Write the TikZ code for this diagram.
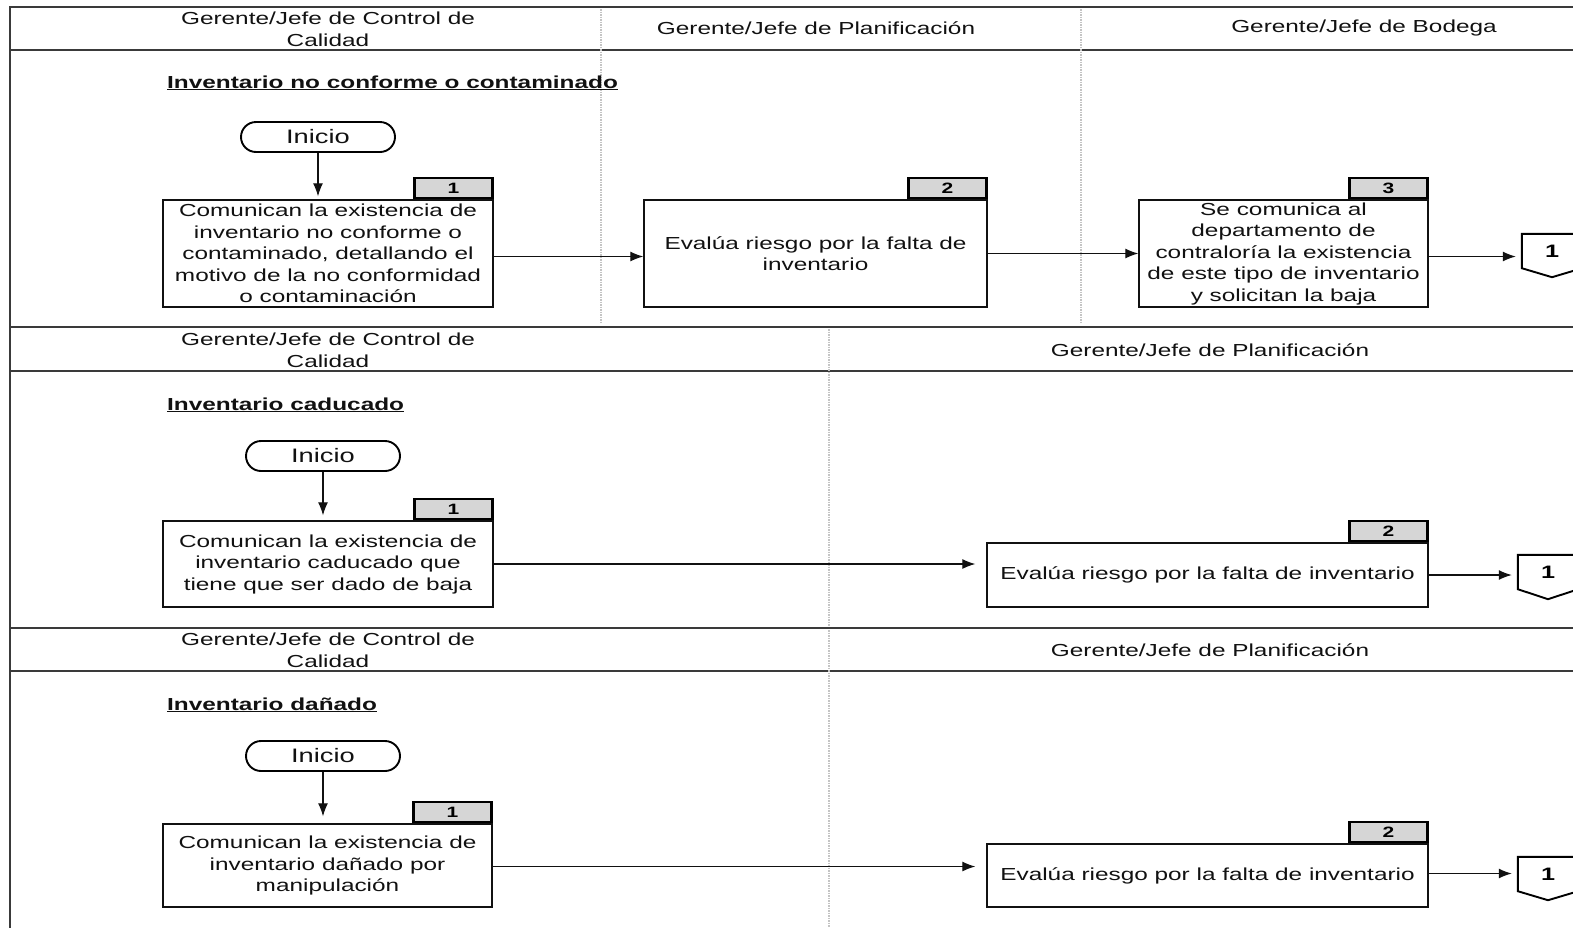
\documentclass[tikz,border=0pt]{standalone}
\usepackage{fontspec}
\setmainfont{Liberation Sans}[FakeStretch=1.4]
\usetikzlibrary{arrows.meta}

\definecolor{frameline}{HTML}{3A3A3A}
\definecolor{laneline}{HTML}{C4C4C4}
\definecolor{tagfill}{HTML}{D6D6D6}
\definecolor{ink}{HTML}{111111}

\tikzset{
  frame/.style={draw=frameline, line width=1.4pt},
  lanesep/.style={draw=laneline, line width=1.5pt, dash pattern=on 1.5pt off 1pt},
  hdr/.style={font=\fontsize{17.4}{22}\selectfont, align=center, text=ink, inner sep=0pt},
  ttl/.style={font=\fontsize{17.4}{22}\selectfont\bfseries, anchor=base west, inner sep=0pt, text=ink},
  start/.style={draw=black, line width=1.9pt, rounded corners=15pt, minimum width=154pt,
    minimum height=30pt, font=\fontsize{19.5}{22}\selectfont, inner sep=0pt, text=ink},
  task/.style={draw=ink, line width=1.3pt, fill=white, align=center,
    font=\fontsize{17.4}{21.5}\selectfont, inner sep=0pt, text=ink},
  tag/.style={draw=black, line width=2.4pt, fill=tagfill, minimum width=78pt, minimum height=20pt,
    inner sep=0pt, font=\fontsize{15}{15}\selectfont\bfseries, anchor=south east},
  offpage/.style={minimum width=60pt, minimum height=34pt, inner sep=0pt,
    font=\fontsize{18}{18}\selectfont\bfseries},
  pentagon/.style={draw=black, line width=1.9pt},
  flow/.style={draw=ink, line width=1.2pt, -{Latex[length=13pt,width=10pt]}},
}

\begin{document}
\begin{tikzpicture}[x=1pt,y=-1pt]
\useasboundingbox (0,0) rectangle (1573,927);
\clip (0,0) rectangle (1573,927);

% ---------- pool frame ----------
\draw[frame] (1580,7) -- (10,7) -- (10,940);
\foreach \yy in {50,327,371,628,671}
  \draw[frame] (10,\yy) -- (1580,\yy);

% lane separators
\draw[lanesep] (601,9) -- (601,323);
\draw[lanesep] (1081,9) -- (1081,323);
\draw[lanesep] (829,329) -- (829,626);
\draw[lanesep] (829,630) -- (829,927);

% ---------- lane headers ----------
\node[hdr] (h1a) at (328,29) {Gerente/Jefe de Control de\\Calidad};
\node[hdr] (h1b) at (816,28) {Gerente/Jefe de Planificación};
\node[hdr] (h1c) at (1364,28) {Gerente/Jefe de Bodega};
\node[hdr] (h2a) at (328,350) {Gerente/Jefe de Control de\\Calidad};
\node[hdr] (h2b) at (1210,350) {Gerente/Jefe de Planificación};
\node[hdr] (h3a) at (328,650) {Gerente/Jefe de Control de\\Calidad};
\node[hdr] (h3b) at (1210,650) {Gerente/Jefe de Planificación};

% ---------- section 1: inventario no conforme o contaminado ----------
\node[ttl] (t1) at (167,88) {\underline{Inventario no conforme o contaminado}};
\node[start] (s1) at (318,137) {Inicio};
\node[task, minimum width=330pt, minimum height=107pt] (a1) at (328,253.5)
  {Comunican la existencia de\\inventario no conforme o\\contaminado, detallando el\\motivo de la no conformidad\\o contaminación};
\node[tag] (a1n) at (a1.north east) {1};
\node[task, minimum width=343pt, minimum height=107pt] (a2) at (815.5,253.5)
  {Evalúa riesgo por la falta de\\inventario};
\node[tag] (a2n) at (a2.north east) {2};
\node[task, minimum width=289pt, minimum height=107pt] (a3) at (1283.5,253.5)
  {Se comunica al\\departamento de\\contraloría la existencia\\de este tipo de inventario\\y solicitan la baja};
\node[tag] (a3n) at (a3.north east) {3};
\node[offpage] (o1) at (1552,251) {1};
\draw[pentagon] (o1.north west) -- (o1.north east) -- (o1.south east)
  -- ([yshift=-9pt]o1.south) -- (o1.south west) -- cycle;

\draw[flow, shorten >=3pt] (s1.south) -- (s1.south |- a1.north);
\draw[flow] ([yshift=-3pt]a1.east) -- ([yshift=-3pt]a1.east -| a2.west);
\draw[flow] (a2.east) -- (a2.east -| a3.west);
\draw[flow, shorten >=6pt] ([yshift=-3pt]a3.east) -- ([yshift=-3pt]a3.east -| o1.west);

% ---------- section 2: inventario caducado ----------
\node[ttl] (t2) at (167,410) {\underline{Inventario caducado}};
\node[start] (s2) at (323,456) {Inicio};
\node[task, minimum width=330pt, minimum height=86pt] (b1) at (328,564)
  {Comunican la existencia de\\inventario caducado que\\tiene que ser dado de baja};
\node[tag] (b1n) at (b1.north east) {1};
\node[task, minimum width=441pt, minimum height=64pt] (b2) at (1207.5,575)
  {Evalúa riesgo por la falta de inventario};
\node[tag] (b2n) at (b2.north east) {2};
\node[offpage] (o2) at (1548,572) {1};
\draw[pentagon] (o2.north west) -- (o2.north east) -- (o2.south east)
  -- ([yshift=-10pt]o2.south) -- (o2.south west) -- cycle;

\draw[flow, shorten >=5pt] (s2.south) -- (s2.south |- b1.north);
\draw[flow, shorten >=11pt] (b1.east) -- (b1.east -| b2.west);
\draw[flow, shorten >=6pt] (b2.east) -- (b2.east -| o2.west);

% ---------- section 3: inventario dañado ----------
\node[ttl] (t3) at (167,710) {\underline{Inventario dañado}};
\node[start] (s3) at (323,756) {Inicio};
\node[task, minimum width=329pt, minimum height=83pt] (c1) at (327.5,865.5)
  {Comunican la existencia de\\inventario dañado por\\manipulación};
\node[tag] (c1n) at (c1.north east) {1};
\node[task, minimum width=441pt, minimum height=63pt] (c2) at (1207.5,875.5)
  {Evalúa riesgo por la falta de inventario};
\node[tag] (c2n) at (c2.north east) {2};
\node[offpage] (o3) at (1548,874) {1};
\draw[pentagon] (o3.north west) -- (o3.north east) -- (o3.south east)
  -- ([yshift=-9pt]o3.south) -- (o3.south west) -- cycle;

\draw[flow, shorten >=7pt] (s3.south) -- (s3.south |- c1.north);
\draw[flow, shorten >=11pt] ([yshift=-1pt]c1.east) -- ([yshift=-1pt]c1.east -| c2.west);
\draw[flow, shorten >=6pt] ([yshift=2pt]c2.east) -- ([yshift=2pt]c2.east -| o3.west);
\end{tikzpicture}
\end{document}
